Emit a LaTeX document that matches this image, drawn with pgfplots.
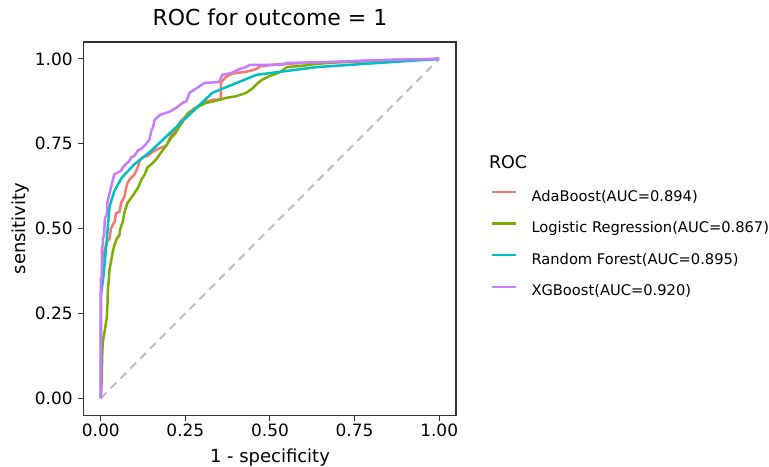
\documentclass[border=0pt]{standalone}
\usepackage{fontspec}
\setmainfont{DejaVu Sans}
\usepackage{pgfplots}
\pgfplotsset{compat=1.18}

\definecolor{ada}{HTML}{F8766D}
\definecolor{logit}{HTML}{7CAE00}
\definecolor{rf}{HTML}{00BFC4}
\definecolor{xgb}{HTML}{C77CFF}
\definecolor{diag}{HTML}{BEBEBE}
\definecolor{frame}{HTML}{333333}

\begin{document}
\begin{tikzpicture}
\path (-84pt,-51pt) rectangle (685pt,416pt);
\begin{axis}[
    at={(0,0)}, anchor=south west,
    width=373pt, height=374pt, scale only axis,
    clip=false,
    xmin=-0.05, xmax=1.05, ymin=-0.05, ymax=1.05,
    xtick={0,0.25,0.5,0.75,1}, ytick={0,0.25,0.5,0.75,1},
    tick pos=left, tick align=outside, major tick length=6pt,
    tick style={line width=1pt, color=frame},
    axis line style={line width=1.3pt, color=frame},
    /pgf/number format/.cd, fixed, fixed zerofill, precision=2, assume math mode=true,
    /pgfplots/.cd,
    ticklabel style={font=\fontsize{17}{20}\selectfont, inner sep=0pt},
    xticklabel style={anchor=north, yshift=-3pt},
    yticklabel style={anchor=east, xshift=-5pt},
    title={ROC for outcome = 1},
    title style={font=\fontsize{22}{26}\selectfont, at={(axis description cs:0.5,1)}, anchor=base, yshift=10pt, inner sep=0pt},
    xlabel={1 - specificity},
    xlabel style={font=\fontsize{18}{21}\selectfont, at={(axis description cs:0.5,0)}, anchor=base, yshift=-47pt, inner sep=0pt},
    ylabel={sensitivity},
    ylabel style={font=\fontsize{18}{21}\selectfont, at={(axis description cs:-0.158,0.5)}, anchor=base, rotate=0, inner sep=0pt},
    legend style={at={(1.094,0.603)}, anchor=north west, draw=none, fill=none,
        inner sep=0pt, outer sep=0pt, font=\fontsize{14.7}{17}\selectfont,
        row sep=17.2pt,
        nodes={inner sep=0pt, text height=11pt, text depth=3.5pt},
        /tikz/every odd column/.append style={column sep=14pt}},
    legend cell align=left,
    legend image code/.code={\draw[#1] (0pt,5.4pt) -- (24pt,5.4pt);},
]
% chance line
\addplot[diag, line width=2pt, dash pattern=on 8pt off 6pt, forget plot] coordinates {(0,0) (1,1)};

% AdaBoost
\addplot[ada, line width=2.5pt] coordinates {
(0,0) (0,0.30) (0.003,0.36) (0.005,0.40) (0.008,0.42) (0.012,0.44) (0.018,0.46)
(0.026,0.47) (0.03,0.50) (0.035,0.51) (0.041,0.52) (0.045,0.545) (0.056,0.55)
(0.06,0.575) (0.07,0.594) (0.075,0.62) (0.079,0.635) (0.09,0.65) (0.10,0.66)
(0.109,0.68) (0.115,0.70) (0.124,0.71) (0.14,0.715) (0.153,0.726) (0.17,0.735)
(0.195,0.745) (0.21,0.78) (0.22,0.79) (0.235,0.815) (0.25,0.83) (0.265,0.845)
(0.28,0.856) (0.295,0.865) (0.31,0.874) (0.335,0.88) (0.355,0.88) (0.355,0.93)
(0.37,0.947) (0.39,0.957) (0.43,0.962) (0.46,0.97) (0.47,0.978) (0.52,0.984)
(0.6,0.988) (0.7,0.99) (0.85,0.995) (1,1)
};
\addlegendentry{AdaBoost(AUC=0.894)}

% Logistic Regression
\addplot[logit, line width=2.5pt] coordinates {
(0,0) (0.003,0.06) (0.004,0.12) (0.006,0.165) (0.01,0.19) (0.012,0.20) (0.015,0.22)
(0.018,0.24) (0.02,0.28) (0.021,0.32) (0.024,0.35) (0.026,0.38) (0.03,0.40)
(0.035,0.43) (0.04,0.45) (0.047,0.47) (0.055,0.48) (0.058,0.50) (0.065,0.52)
(0.07,0.547) (0.079,0.576) (0.09,0.59) (0.10,0.605) (0.11,0.62) (0.12,0.644)
(0.13,0.66) (0.138,0.68) (0.15,0.69) (0.165,0.705) (0.175,0.72) (0.19,0.74)
(0.21,0.77) (0.22,0.78) (0.232,0.80) (0.245,0.82) (0.258,0.84) (0.28,0.855)
(0.31,0.87) (0.33,0.874) (0.37,0.885) (0.40,0.89) (0.43,0.90) (0.447,0.912)
(0.46,0.925) (0.476,0.938) (0.50,0.95) (0.526,0.959) (0.54,0.968) (0.55,0.976)
(0.6,0.98) (0.635,0.985) (0.7,0.99) (0.8,0.995) (1,1)
};
\addlegendentry{Logistic Regression(AUC=0.867)}

% Random Forest
\addplot[rf, line width=2.5pt] coordinates {
(0,0) (0,0.30) (0.008,0.36) (0.012,0.40) (0.018,0.47) (0.026,0.565) (0.04,0.61)
(0.062,0.65) (0.1,0.69) (0.15,0.73) (0.24,0.815) (0.33,0.90) (0.46,0.953)
(0.64,0.976) (1,1)
};
\addlegendentry{Random Forest(AUC=0.895)}

% XGBoost
\addplot[xgb, line width=2.5pt] coordinates {
(0,0) (0,0.35) (0.003,0.35) (0.003,0.44) (0.006,0.45) (0.006,0.47) (0.010,0.48)
(0.012,0.53) (0.018,0.54) (0.02,0.58) (0.025,0.60) (0.03,0.62) (0.035,0.64)
(0.04,0.66) (0.05,0.665) (0.06,0.67) (0.065,0.68) (0.075,0.69) (0.085,0.70)
(0.09,0.71) (0.10,0.715) (0.11,0.73) (0.12,0.735) (0.13,0.745) (0.144,0.762)
(0.15,0.79) (0.155,0.80) (0.159,0.82) (0.175,0.835) (0.203,0.844) (0.225,0.857)
(0.241,0.87) (0.253,0.875) (0.262,0.90) (0.29,0.918) (0.306,0.929) (0.35,0.932)
(0.359,0.953) (0.388,0.959) (0.41,0.97) (0.429,0.976) (0.44,0.982) (0.535,0.982)
(0.55,0.988) (0.65,0.99) (0.78,0.995) (0.88,0.998) (1,1)
};
\addlegendentry{XGBoost(AUC=0.920)}

\node[anchor=base west, inner sep=0pt, font=\fontsize{17.5}{20}\selectfont]
    at (rel axis cs:1.088,0.66) {ROC};
\end{axis}
\end{tikzpicture}
\end{document}
